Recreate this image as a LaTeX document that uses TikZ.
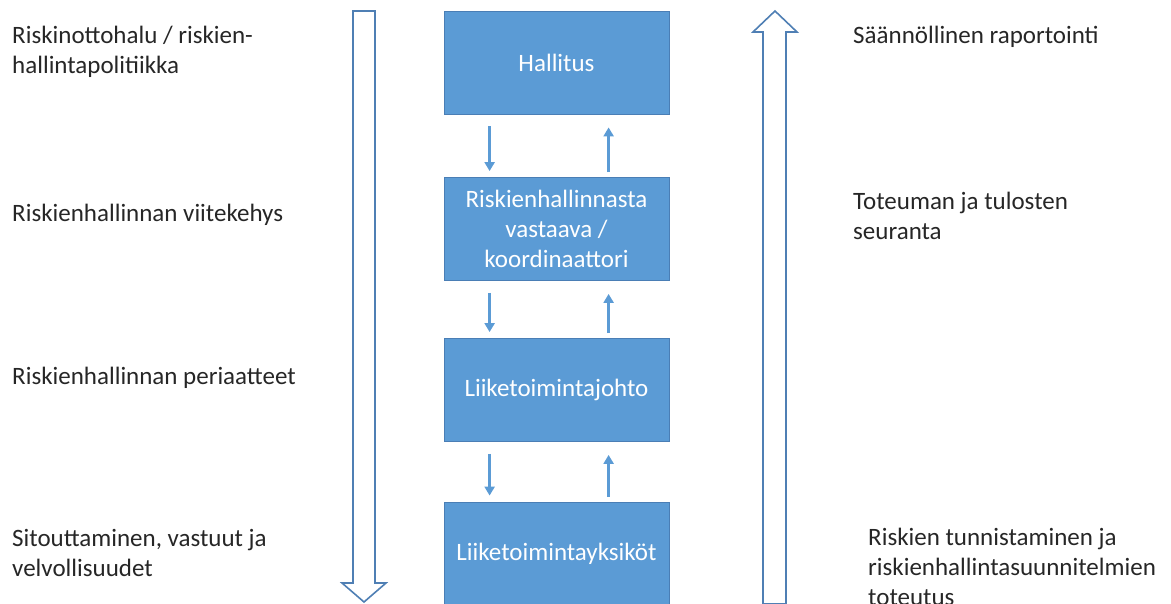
\documentclass[tikz,border=0pt]{standalone}
\usepackage{fontspec}
\setmainfont{Carlito}
\usetikzlibrary{arrows.meta}
\definecolor{boxblue}{HTML}{5B9BD5}
\definecolor{boxedge}{HTML}{4A7EB5}
\definecolor{outline}{HTML}{4F7FB4}
\definecolor{txt}{HTML}{262626}
\begin{document}
\begin{tikzpicture}[x=1pt,y=-1pt,
  level/.style={rectangle, fill=boxblue, draw=boxedge, line width=0.8pt,
    minimum width=225pt, minimum height=103pt, inner sep=2pt,
    align=center, text=white, font=\fontsize{25}{30}\selectfont},
  label/.style={anchor=west, inner sep=0pt, align=left, text=txt,
    font=\fontsize{25}{30}\selectfont},
  flow/.style={draw=boxblue, line width=2.4pt,
    -{Triangle[width=10pt,length=9pt]}},
  bigarrow/.style={draw=outline, fill=white, line width=1.6pt, line join=miter}]
\useasboundingbox (0,0) rectangle (1171,604);

% organisation levels
\node[level] (hall) at (556.5,62.5) {Hallitus};
\node[level] (koord) at (556.5,229) {Riskienhallinnasta\\vastaava /\\koordinaattori};
\node[level] (johto) at (556.5,390) {Liiketoimintajohto};
\node[level] (yks) at (556.5,553.5) {Liiketoimintayksiköt};

% steering downwards, reporting upwards
\foreach \a/\b in {hall/koord, koord/johto, johto/yks}{
  \draw[flow] ([xshift=46pt,yshift=-12pt]\a.south west) -- ([xshift=46pt,yshift=6pt]\b.north west);
  \draw[flow] ([xshift=165pt,yshift=5pt]\b.north west) -- ([xshift=165pt,yshift=-13pt]\a.south west);
}

% large block arrows
\draw[bigarrow] (353,11) -- (375,11) -- (375,583) -- (386,583) -- (364,602)
  -- (342,583) -- (353,583) -- cycle;
\draw[bigarrow] (775,11) -- (797,32) -- (786,32) -- (786,604) -- (763,604)
  -- (763,32) -- (753,32) -- cycle;

% left column
\node[label] (l1) at (12,52) {Riskinottohalu / riskien-\\hallintapolitiikka};
\node[label] (l2) at (12,215) {Riskienhallinnan viitekehys};
\node[label] (l3) at (12,378) {Riskienhallinnan periaatteet};
\node[label] (l4) at (12,553) {Sitouttaminen, vastuut ja\\velvollisuudet};

% right column
\node[label] (r1) at (853,37) {Säännöllinen raportointi};
\node[label] (r2) at (853,216) {Toteuman ja tulosten\\seuranta};
\node[label] (r3) at (868,567) {Riskien tunnistaminen ja\\riskienhallintasuunnitelmien\\toteutus};
\end{tikzpicture}
\end{document}
